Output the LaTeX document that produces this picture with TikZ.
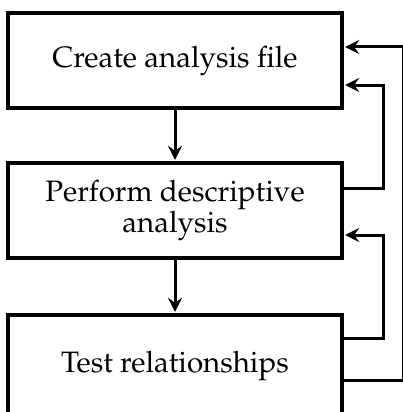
\documentclass[tikz,border=0pt]{standalone}
\usepackage[T1]{fontenc}
\usepackage{mathpazo}
\usetikzlibrary{arrows.meta}
\begin{document}
\begin{tikzpicture}[x=1pt,y=1pt,
  stepbox/.style={draw=black, line width=3.2pt, minimum width=334pt, inner sep=0pt,
    align=center, font=\fontsize{29.5}{31}\selectfont},
  flow/.style={line width=3pt, -{Stealth[length=14pt,width=14pt,inset=5pt]}, shorten >=1.6pt},
  fb/.style={line width=3pt, -{Stealth[length=14pt,width=14pt,inset=5pt]}, shorten >=1.6pt}]
\useasboundingbox (0,0) rectangle (403,-412);
\node[stepbox, minimum height=95pt] (b1) at (175,-60.5) {Create analysis file};
\node[stepbox, minimum height=95pt] (b2) at (175,-210.5) {Perform descriptive\\analysis};
\node[stepbox, minimum height=101pt] (b3) at (175,-365.5) {Test relationships};
\draw[flow] (b1.south) -- (b2.north);
\draw[flow] (b2.south) -- (b3.north);
\draw[fb] ([yshift=22.5pt]b2.east) -- ++(40pt,0) |- ([yshift=-24.5pt]b1.east);
\draw[fb] ([yshift=27.5pt]b3.east) -- ++(40pt,0) |- ([yshift=-24.5pt]b2.east);
\draw[fb] ([yshift=-14.5pt]b3.east) -- ++(59.5pt,0) |- ([yshift=13.5pt]b1.east);
\end{tikzpicture}
\end{document}
